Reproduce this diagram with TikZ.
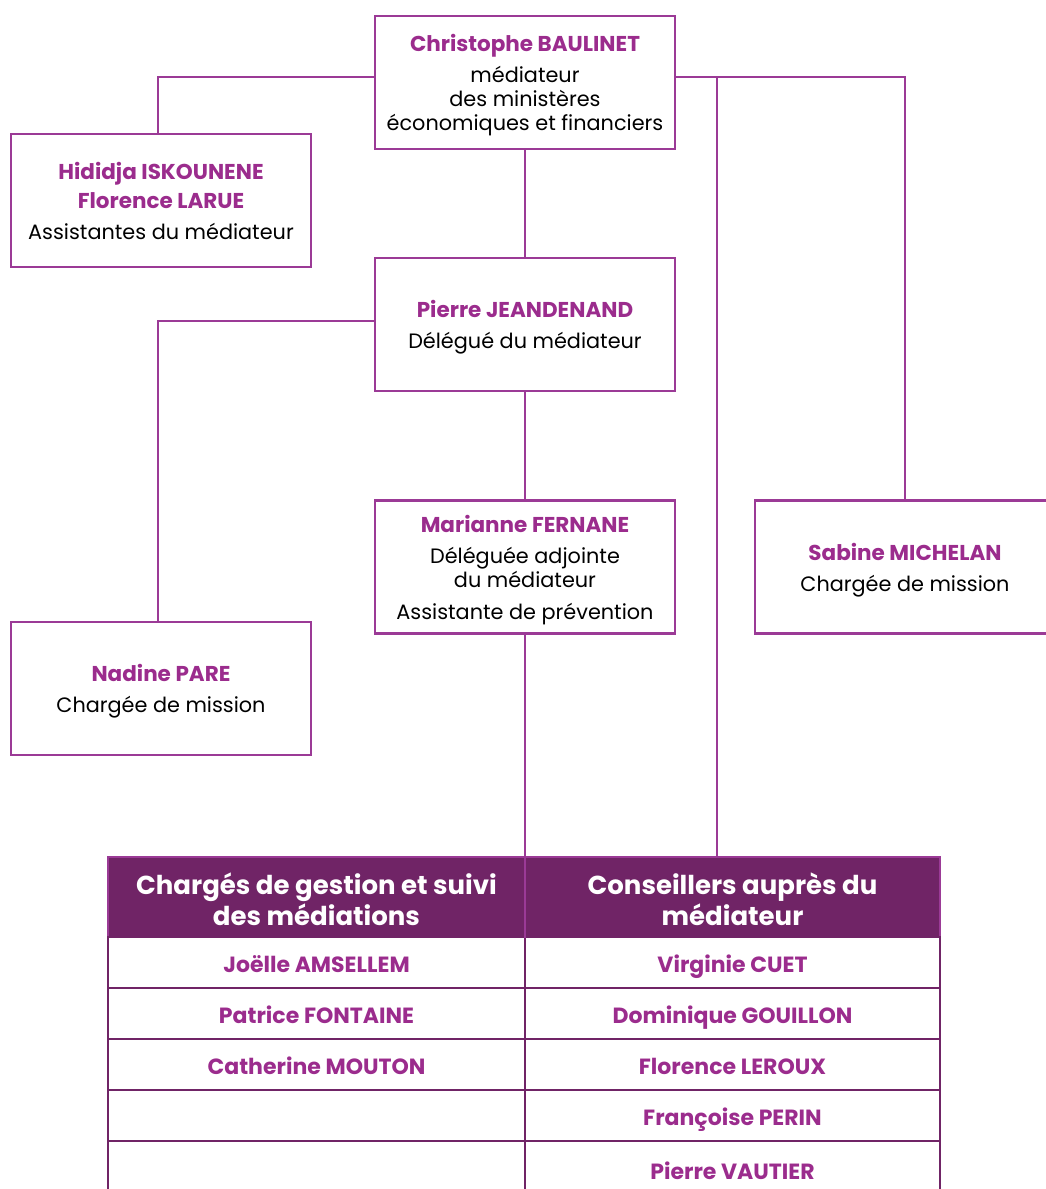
\documentclass[tikz,border=0pt]{standalone}
\usepackage{fontspec}
\setmainfont{Poppins}
\definecolor{bord}{HTML}{9B3A96}
\definecolor{nm}{HTML}{9B2C8D}
\definecolor{hdr}{HTML}{702466}
\newcommand{\nmtxt}[1]{{\bfseries\color{nm}\fontsize{21.5}{29}\selectfont #1}}
\begin{document}
\begin{tikzpicture}[x=1pt,y=-1pt,
  box/.style={draw=bord, line width=2.5pt, fill=white, minimum width=300pt, minimum height=133pt, inner sep=0pt},
  boxtext/.style={align=center, inner sep=0pt, font=\fontsize{20.8}{24}\selectfont},
  conn/.style={draw=bord, line width=2.5pt},
  hcell/.style={draw=bord, line width=2.5pt, fill=hdr, minimum height=80pt, inner sep=0pt},
  htext/.style={align=center, inner sep=0pt, text=white, font=\bfseries\fontsize{26}{31}\selectfont},
  rcell/.style={draw=hdr, line width=2.5pt, fill=white, minimum height=51pt, inner sep=0pt,
    text height=20pt, text depth=0pt,
    text=nm, font=\bfseries\fontsize{22}{24}\selectfont}
]
\useasboundingbox (0,0) rectangle (1046,1189);
\clip (0,0) rectangle (1046,1189);

\coordinate (vr) at (717,77);

\node[box] (chris) at (525,82.5) {};
\node[boxtext] (christ) at ([yshift=-2.5pt]chris.center) {\nmtxt{Christophe BAULINET}\\[7pt]médiateur\\des ministères\\économiques et financiers};
\node[box] (hid) at (161,200.5) {};
\node[boxtext] (hidt) at (hid.center) {\nmtxt{Hididja ISKOUNENE}\\[5pt]\nmtxt{Florence LARUE}\\[7pt]Assistantes du médiateur};
\node[box] (pierre) at (525,324.5) {};
\node[boxtext] (pierret) at ([yshift=-3pt]pierre.center) {\nmtxt{Pierre JEANDENAND}\\[7pt]Délégué du médiateur};
\node[box] (mar) at (525,567) {};
\node[boxtext] (mart) at ([yshift=-3.5pt]mar.center) {\nmtxt{Marianne FERNANE}\\[7pt]Déléguée adjointe\\du médiateur\\[8pt]Assistante de prévention};
\node[box] (sab) at (905,567) {};
\node[boxtext] (sabt) at ([yshift=-3pt]sab.center) {\nmtxt{Sabine MICHELAN}\\[7pt]Chargée de mission};
\node[box] (nad) at (161,688.5) {};
\node[boxtext] (nadt) at ([yshift=-3pt]nad.center) {\nmtxt{Nadine PARE}\\[7pt]Chargée de mission};

% table
\node[hcell, minimum width=417pt] (h1) at (316.5,897) {};
\node[htext] (h1t) at ([yshift=-2pt]h1.center) {Chargés de gestion et suivi\\des médiations};
\node[hcell, minimum width=415pt] (h2) at (732.5,897) {};
\node[htext] (h2t) at ([yshift=-2pt]h2.center) {Conseillers auprès du\\médiateur};

\node[rcell, minimum width=417pt] (a1) at (316.5,962.5) {Joëlle AMSELLEM};
\node[rcell, minimum width=417pt] (a2) at (316.5,1013.5) {Patrice FONTAINE};
\node[rcell, minimum width=417pt] (a3) at (316.5,1064.5) {Catherine MOUTON};
\node[rcell, minimum width=417pt] (a4) at (316.5,1115.5) {};
\node[rcell, minimum width=417pt, minimum height=60pt] (a5) at (316.5,1171) {};

\node[rcell, minimum width=415pt] (b1) at (732.5,962.5) {Virginie CUET};
\node[rcell, minimum width=415pt] (b2) at (732.5,1013.5) {Dominique GOUILLON};
\node[rcell, minimum width=415pt] (b3) at (732.5,1064.5) {Florence LEROUX};
\node[rcell, minimum width=415pt] (b4) at (732.5,1115.5) {Françoise PERIN};
\node[rcell, minimum width=415pt, minimum height=60pt, text height=17pt] (b5) at (732.5,1171) {Pierre VAUTIER};

% connectors
\draw[conn] ([yshift=5.5pt]chris.west) -| ([xshift=-3pt]hid.north);
\draw[conn] ([yshift=5.5pt]chris.east) -| (sab.north);
\draw[conn] (vr) -- (vr |- h2.north);
\draw[conn] (chris.south) -- (pierre.north);
\draw[conn] ([yshift=3.5pt]pierre.west) -| ([xshift=-3pt]nad.north);
\draw[conn] (pierre.south) -- (mar.north);
\draw[conn] (mar.south) -- (mar.south |- h1.north);
\draw[draw=bord, line width=2pt] (mar.south |- h1.north) -- (mar.south |- h1.south);
\end{tikzpicture}
\end{document}
